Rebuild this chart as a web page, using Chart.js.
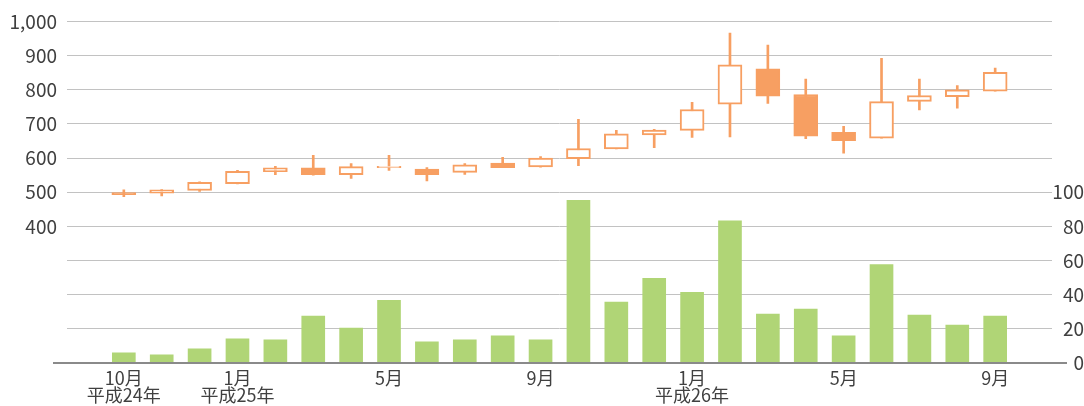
<!DOCTYPE html>
<html>
<head>
<meta charset="utf-8">
<script src="https://cdn.jsdelivr.net/npm/chart.js@4.4.0/dist/chart.umd.min.js"></script>
<style>
    body { margin: 0; background: #fff; }
    #wrap { width: 1084px; height: 406px; position: relative; }
</style>
</head>
<body>
<div id="wrap"><canvas id="stockChart"></canvas></div>
<script>
// 平成24年10月 ～ 平成26年9月
const months = ["2012-10", "2012-11", "2012-12", "2013-01", "2013-02", "2013-03", "2013-04", "2013-05",
    "2013-06", "2013-07", "2013-08", "2013-09", "2013-10", "2013-11", "2013-12", "2014-01",
    "2014-02", "2014-03", "2014-04", "2014-05", "2014-06", "2014-07", "2014-08", "2014-09"];
const tickLabels = [["10月", "平成24年"], "", "", ["1月", "平成25年"], "", "", "", "5月", "", "", "", "9月",
    "", "", "", ["1月", "平成26年"], "", "", "", "5月", "", "", "", "9月"];

const opens  = [499, 497, 505, 525, 560, 571, 551, 572, 568, 558, 585, 574, 598, 627, 668, 681, 758, 861, 786, 675, 658, 766, 780, 796];
const highs  = [507, 508, 530, 564, 576, 608, 584, 608, 572, 584, 602, 604, 713, 681, 684, 763, 966, 931, 831, 693, 892, 831, 812, 863];
const lows   = [487, 489, 502, 524, 551, 550, 540, 564, 533, 552, 572, 573, 578, 627, 630, 660, 662, 760, 657, 614, 658, 741, 746, 796];
const closes = [493, 507, 529, 561, 571, 551, 575, 576, 551, 580, 572, 600, 628, 671, 682, 742, 873, 781, 664, 651, 765, 783, 800, 851];
const volumes = [6.0, 4.8, 8.3, 14.1, 13.5, 27.5, 20.5, 36.7, 12.4, 13.5, 15.9, 13.5,
    95.3, 35.6, 49.5, 41.4, 83.2, 28.6, 31.5, 15.9, 57.6, 28.0, 22.2, 27.5];

const orange = "#f79f62";
const green = "#b0d576";
const textColor = "#404040";
const family = '"Noto Sans CJK JP", "Noto Sans", sans-serif';

// empty slot on each side, like the original
const pad = (arr) => [null, ...arr, null];
const labels = pad(months);
const bodies = pad(months.map((m, i) => [opens[i], closes[i]]));
const wicks = pad(months.map((m, i) => [lows[i], highs[i]]));
const bodyFill = pad(months.map((m, i) => closes[i] >= opens[i] ? "#ffffff" : orange));

const baseLine = {
    id: "baseLine",
    afterDatasetsDraw(chart) {
        const { ctx, chartArea } = chart;
        const y = chart.scales.y.getPixelForValue(0);
        ctx.save();
        ctx.strokeStyle = "#8a8a8a";
        ctx.lineWidth = 2;
        ctx.beginPath();
        ctx.moveTo(chartArea.left - 14, y);
        ctx.lineTo(chartArea.right + 15, y);
        ctx.stroke();
        ctx.restore();
    }
};

new Chart(document.getElementById("stockChart").getContext("2d"), {
    type: "bar",
    data: {
        labels: labels,
        datasets: [
            {
                label: "高値・安値",
                data: wicks,
                backgroundColor: orange,
                borderWidth: 0,
                barThickness: 2,
                grouped: false,
                order: 2,
                yAxisID: "y"
            },
            {
                label: "始値・終値",
                data: bodies,
                backgroundColor: bodyFill,
                borderColor: orange,
                borderWidth: 2,
                borderSkipped: false,
                barThickness: 24,
                grouped: false,
                order: 1,
                yAxisID: "y"
            },
            {
                label: "出来高",
                data: pad(volumes),
                backgroundColor: green,
                borderWidth: 0,
                barThickness: 23,
                grouped: false,
                order: 3,
                yAxisID: "y2"
            }
        ]
    },
    options: {
        responsive: true,
        maintainAspectRatio: false,
        animation: false,
        layout: { padding: { top: 18, left: 0, right: 0, bottom: 0 } },
        plugins: { legend: { display: false }, tooltip: { enabled: false } },
        scales: {
            x: {
                grid: { display: false, drawTicks: false },
                border: { display: false },
                ticks: {
                    autoSkip: false,
                    maxRotation: 0,
                    padding: 7,
                    color: textColor,
                    font: { family: family, size: 18, lineHeight: 0.92 },
                    callback: (v, i) => (i > 0 && i <= tickLabels.length) ? tickLabels[i - 1] : ""
                },
                afterFit: (scale) => { scale.height = 43; }
            },
            y: {
                position: "left",
                min: 0,
                max: 1000,
                border: { display: false },
                grid: {
                    drawTicks: false,
                    color: (c) => c.tick.value === 0 ? "rgba(0,0,0,0)" : "#c2c2c2",
                    lineWidth: 1
                },
                ticks: {
                    stepSize: 100,
                    padding: 10,
                    color: textColor,
                    font: { family: family, size: 19 },
                    callback: (v) => v >= 400 ? v.toLocaleString("en-US") : ""
                },
                afterFit: (scale) => { scale.width = 67; }
            },
            y2: {
                position: "right",
                min: 0,
                max: 200,
                border: { display: false },
                grid: { drawOnChartArea: false, drawTicks: false },
                ticks: {
                    stepSize: 20,
                    padding: 5,
                    crossAlign: "far",
                    color: textColor,
                    font: { family: family, size: 19 },
                    callback: (v) => v <= 100 ? v : ""
                },
                afterFit: (scale) => { scale.width = 32; }
            }
        }
    },
    plugins: [baseLine]
});
</script>
</body>
</html>
